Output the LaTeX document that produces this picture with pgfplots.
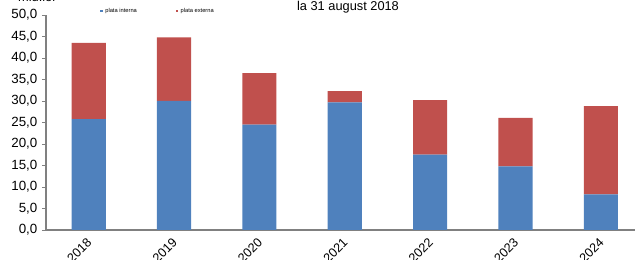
\documentclass[border=0pt]{standalone}
\usepackage{pgfplots}
\pgfplotsset{compat=1.18}
\usepackage{fontspec}
\setmainfont{Liberation Sans}
\definecolor{cblue}{HTML}{4F81BD}
\definecolor{cred}{HTML}{C0504D}
\definecolor{axgray}{HTML}{808080}
\pgfplotstableread{
x interna externa
0 25.8 17.7
1 30.0 14.8
2 24.5 12.0
3 29.7 2.6
4 17.5 12.7
5 14.8 11.3
6 8.3 20.5
}\datatable
\begin{document}
\begin{tikzpicture}
\useasboundingbox (-34.5pt,-22.5pt) rectangle (441.75pt,172.5pt);
\clip (-34.5pt,-22.5pt) rectangle (441.75pt,172.5pt);
\begin{axis}[
  at={(0pt,0pt)}, anchor=south west,
  scale only axis, width=441.75pt, height=161.25pt,
  ybar stacked, bar width=0.4,
  xmin=-0.5, xmax=6.4, ymin=0, ymax=50,
  axis lines=left, axis line style={-, axgray, line width=0.8pt},
  xtick={0,...,6}, xticklabels={2018,2019,2020,2021,2022,2023,2024},
  x tick style={draw=none},
  extra x ticks={-0.5,0.5,1.5,2.5,3.5,4.5,5.5},
  extra x tick labels={},
  extra x tick style={tick style={draw=axgray!60, line width=0.6pt}, major tick length=3pt, tick align=outside},
  ytick={0,5,...,50},
  y tick style={axgray, line width=0.6pt}, major tick length=3pt, tick align=outside,
  /pgf/number format/assume math mode=true,
  yticklabel style={/pgf/number format/.cd, fixed, fixed zerofill, precision=1, use comma},
  tick label style={font=\fontsize{10}{12}\selectfont, black},
  xticklabel style={font=\fontsize{9.5}{11}\selectfont, yshift=-12pt, xshift=-7pt, rotate=45, anchor=center},
  legend style={at={(rel axis cs:0.0917,1.0186)}, anchor=west, draw=none, fill=none,
    font=\fontsize{4.3}{5}\selectfont, legend columns=2, inner sep=0pt,
    /tikz/every even column/.append style={column sep=27pt}},
  legend image code/.code={\fill[#1] (0pt,-1pt) rectangle (1.8pt,1pt);},
]
\addplot[fill=cblue, draw=none] table[x=x, y=interna] {\datatable};
\addlegendentry{plata interna}
\addplot[fill=cred, draw=none] table[x=x, y=externa] {\datatable};
\addlegendentry{plata externa}
\end{axis}
\node[font=\fontsize{9.6}{11}\selectfont] at (226.5pt,167pt) {la 31 august 2018};
\node[font=\fontsize{9.6}{11}\selectfont] at (-7pt,175pt) {mld.lei};
\end{tikzpicture}
\end{document}
